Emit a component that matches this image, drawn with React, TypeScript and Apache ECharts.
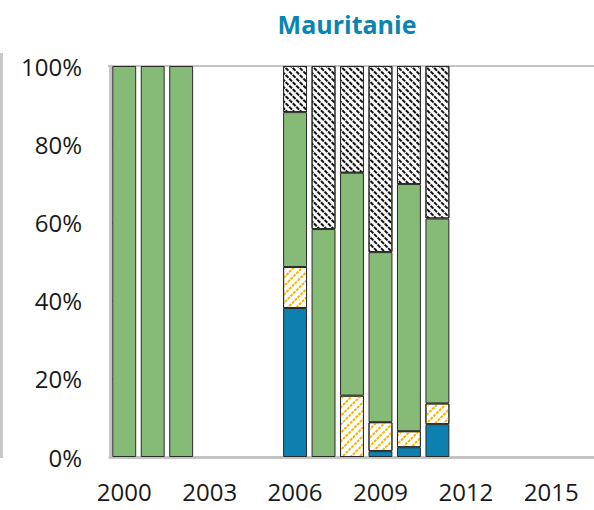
import React, { useEffect, useRef } from "react";
import * as echarts from "echarts";

const years = ["2000","2001","2002","2003","2004","2005","2006","2007","2008","2009","2010","2011","2012","2013","2014","2015","2016"];
const blueValues = [null, null, null, null, null, null, 38.1, null, null, 1.5, 2.5, 8.4, null, null, null, null, null];
const yellowValues = [null, null, null, null, null, null, 10.5, null, 15.7, 7.4, 4.1, 5.3, null, null, null, null, null];
const greenValues = [100, 100, 100, null, null, null, 39.6, 58.3, 57.0, 43.5, 63.2, 47.3, null, null, null, null, null];
const hatchValues = [null, null, null, null, null, null, 11.8, 41.7, 27.3, 47.6, 30.2, 39.0, null, null, null, null, null];
const yTicks = [0, 20, 40, 60, 80, 100];

export default function App() {
  const ref = useRef<HTMLDivElement>(null);
  useEffect(() => {
    if (!ref.current) return;
    const chart = echarts.init(ref.current, null, { renderer: "svg" });
    const font = "'Open Sans', 'Noto Sans', sans-serif";
    const border = { borderColor: "#2a2a2a", borderWidth: 1 };
    const base = {
      type: "bar",
      stack: "total",
      barCategoryGap: "16%",
      emphasis: { disabled: true },
    };
    chart.setOption({
      animation: false,
      textStyle: { fontFamily: font },
      grid: { left: 110, right: -9, top: 66, bottom: 53, containLabel: false },
      xAxis: {
        type: "category",
        data: years,
        boundaryGap: true,
        axisLine: { lineStyle: { color: "#c4c4c4", width: 3 } },
        axisTick: { inside: true, length: 8, interval: 0, lineStyle: { color: "#c4c4c4", width: 2 } },
        axisLabel: { interval: 2, fontSize: 24, color: "#1a1a1a", margin: 22, fontFamily: font },
        splitLine: { show: false },
      },
      yAxis: {
        type: "value",
        min: 0,
        max: 100,
        interval: 20,
        axisLine: { show: true, lineStyle: { color: "#c4c4c4", width: 3 } },
        axisTick: { show: true, inside: true, length: 8, lineStyle: { color: "#c4c4c4", width: 2 } },
        axisLabel: { fontSize: 24, color: "#1a1a1a", margin: 28, formatter: (v: number) => v + "%", fontFamily: font },
        splitLine: { show: false },
        data: yTicks,
      },
      graphic: [
        { type: "line", shape: { x1: 1.5, y1: 53, x2: 1.5, y2: 458 }, style: { stroke: "#c8c8c8", lineWidth: 3 } },
        { type: "line", shape: { x1: 108, y1: 66, x2: 594, y2: 66 }, style: { stroke: "#c4c4c4", lineWidth: 2 }, z: -1 },
        {
          type: "text",
          x: 347,
          y: 24,
          style: { text: "Mauritanie", fontSize: 25, fontWeight: "bold", fill: "#0a84b0", fontFamily: font, textAlign: "center", textVerticalAlign: "middle" },
        },
      ],
      series: [
        { ...base, name: "Bleu", data: blueValues, itemStyle: { color: "#0e80b0", ...border } },
        {
          ...base,
          name: "Jaune",
          data: yellowValues,
          itemStyle: {
            color: "#ffffff",
            ...border,
            decal: {
              symbol: "rect",
              color: "#f5b400",
              backgroundColor: "#ffffff",
              dashArrayX: [[2.5, 1]],
              dashArrayY: [2, 4],
              rotation: -Math.PI / 4,
              symbolSize: 1,
            },
          },
        },
        { ...base, name: "Vert", data: greenValues, itemStyle: { color: "#85bb77", ...border } },
        {
          ...base,
          name: "Hachuré",
          data: hatchValues,
          itemStyle: {
            color: "#ffffff",
            ...border,
            decal: {
              symbol: "rect",
              color: "#111111",
              backgroundColor: "#ffffff",
              dashArrayX: [[4, 1]],
              dashArrayY: [1.5, 3],
              rotation: Math.PI / 4,
              symbolSize: 1,
            },
          },
        },
      ],
    });
    return () => chart.dispose();
  }, []);
  return <div ref={ref} style={{ width: 594, height: 510, position: "absolute", left: 0, top: 0 }} />;
}
